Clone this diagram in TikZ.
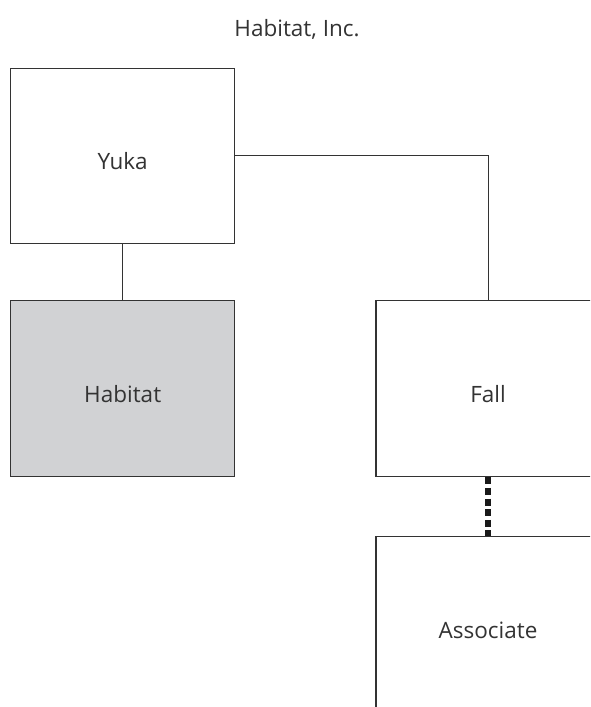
\documentclass[tikz,border=0pt]{standalone}
\usepackage{fontspec}
\setmainfont{Open Sans}
\definecolor{ink}{HTML}{333333}
\definecolor{shade}{HTML}{D1D2D4}
\begin{document}
\begin{tikzpicture}[x=1pt, y=-1pt,
  unit/.style={draw=ink, line width=1.3pt, minimum width=224pt,
    minimum height=176pt, inner sep=0pt, text height=28pt, text depth=0pt,
    font=\fontsize{22.5}{27}\selectfont, text=ink},
  link/.style={draw=ink, line width=1pt},
  dotlink/.style={draw=black!90, line width=6pt, dash pattern=on 7pt off 3.6pt},
  heading/.style={font=\fontsize{22.5}{27}\selectfont, text=ink, inner sep=0pt, anchor=base}]
  \clip (0,0) rectangle (590,707);
  \fill[white] (0,0) rectangle (590,707);

  \node[heading] (title) at (297,36) {Habitat, Inc.};

  \node[unit, minimum height=175pt] (yuka) at (122.7,155.7) {Yuka};
  \node[unit, fill=shade] (habitat) at (122.7,388.7) {Habitat};
  \node[unit] (fall) at (488,388.7) {Fall};
  \node[unit] (assoc) at (488,624.3) {Associate};

  \draw[link] (yuka.south) -- (habitat.north);
  \draw[link] (yuka.east) -| (fall.north);
  \draw[dotlink] (fall.south) -- (assoc.north);
\end{tikzpicture}
\end{document}
